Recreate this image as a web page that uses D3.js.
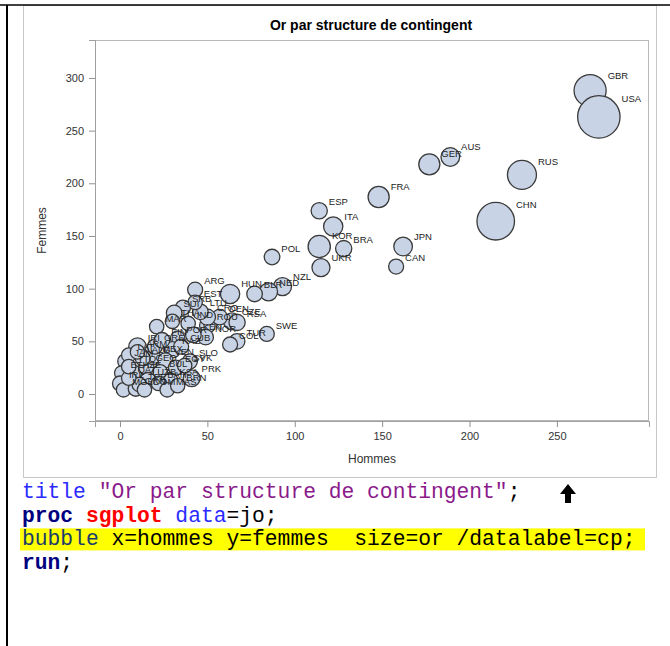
<!DOCTYPE html>
<html>
<head>
<meta charset="utf-8">
<script src="https://cdn.jsdelivr.net/npm/d3@7"></script>
<style>
  html, body { margin: 0; padding: 0; background: #ffffff; }
  svg { display: block; }
  text { white-space: pre; }
</style>
</head>
<body>
<svg id="chart" width="670" height="646"></svg>
<script>
// ---- Data ----
const codes   = ["GBR","USA","CHN","RUS","GER","AUS","FRA","ESP","ITA","KOR","BRA","UKR","JPN","CAN","POL",
                 "NZL","NED","BLR","HUN","ARG","SWE","TUR","COL","ROU","CZE","RSA","DEN","CRO","LTU","EST",
                 "SRB","SUI","THA","IND","MAR","NOR","KEN","POR","IRI","JAM","ETH","IRL","MGL","GRN","AZE",
                 "GEO","MEX","KAZ","CUB","SLO","PRK","VEN","BUL","UZB","TPE","EGY","SVK","LAT","ALG","GRE",
                 "FIN","QAT","KSA","BAH","DOM","TTO","ARM","MAS","BRN"];
const hommes  = [269,274,215,230,177,189,148,114,122,114,128,115,162,158,87,
                 93,85,77,63,43,84,67,63,50,64,67,57,50,46,43,
                 36,31,30,39,21,49,42,33,10,3,1,0,2,9,8,
                 15,19,30,35,40,41,26,23,16,11,32,37,5,13,20,
                 24,5,29,22,14,5,10,27,33];
const femmes  = [288,263,164,208,218,225,187,174,159,140,138,120,140,121,130,
                 102,97,95,95,99,57,50,47,65,69,68,73,73,78,87,
                 82,77,69,67,64,54,56,53,45,31,20,10,4,5,20,
                 26,35,42,45,31,15,32,21,13,9,25,27,37,34,45,
                 51,15,13,10,4,26,40,4,8];
const orVals  = [29,46,38,24,11,7,11,3,8,13,3,6,7,1,2,
                 6,6,2,8,1,1,2,1,2,4,3,2,3,2,0,
                 1,2,0,0,0,2,2,0,5,1,0,1,0,1,1,
                 2,1,3,1,1,4,1,0,2,0,1,0,0,1,1,
                 2,0,0,0,0,0,0,0,0];
const xTicks  = [0, 50, 100, 150, 200, 250];
const yTicks  = [0, 50, 100, 150, 200, 250, 300];
const chartTitle = "Or par structure de contingent";
const xTitle  = "Hommes";
const yTitle  = "Femmes";

const data = codes.map((c, i) => ({ cp: c, hommes: hommes[i], femmes: femmes[i], or: orVals[i] }));

// ---- Drawing ----
const svg = d3.select("#chart");
svg.append("rect").attr("width", 670).attr("height", 646).attr("fill", "#fff");

// outer image frame (grey)
svg.append("rect").attr("x", 23.5).attr("y", 5.5).attr("width", 633).attr("height", 472)
  .attr("fill", "none").attr("stroke", "#c8c8c8").attr("stroke-width", 1);

// black page lines
svg.append("line").attr("x1", 0).attr("x2", 670).attr("y1", 5).attr("y2", 5)
  .attr("stroke", "#000").attr("stroke-width", 1.6);
svg.append("line").attr("x1", 7).attr("x2", 7).attr("y1", 5).attr("y2", 646)
  .attr("stroke", "#000").attr("stroke-width", 2);

const plot = { left: 95, top: 40, right: 649, bottom: 421 };

const x = d3.scaleLinear().domain([-14.3, 302.7]).range([plot.left, plot.right]);
const y = d3.scaleLinear().domain([-25.6, 336]).range([plot.bottom, plot.top]);
const r = d3.scaleLinear().domain([0, 46]).range([7.2, 21.2]);

const labelFont = "'Liberation Sans', Arial, sans-serif";

// title
svg.append("text").attr("x", (plot.left + plot.right) / 2 - 1).attr("y", 30)
  .attr("text-anchor", "middle").attr("font-family", labelFont)
  .attr("font-weight", "bold").attr("font-size", 14).attr("fill", "#000")
  .text(chartTitle);

// plot border
svg.append("rect").attr("x", plot.left + 0.5).attr("y", plot.top + 0.5)
  .attr("width", plot.right - plot.left - 1).attr("height", plot.bottom - plot.top - 1)
  .attr("fill", "none").attr("stroke", "#b8b8b8").attr("stroke-width", 1);

// axes
const xAxis = svg.append("g").attr("transform", `translate(0,${plot.bottom})`)
  .call(d3.axisBottom(x).tickValues(xTicks).tickSize(6).tickPadding(5));
const yAxis = svg.append("g").attr("transform", `translate(${plot.left},0)`)
  .call(d3.axisLeft(y).tickValues(yTicks).tickSize(6).tickPadding(5));
[xAxis, yAxis].forEach(g => {
  g.select(".domain").attr("stroke", "#a0a0a0");
  g.selectAll(".tick line").attr("stroke", "#909090");
  g.selectAll(".tick text").attr("font-family", labelFont).attr("font-size", 11).attr("fill", "#333");
});

svg.append("text").attr("x", (plot.left + plot.right) / 2).attr("y", 463)
  .attr("text-anchor", "middle").attr("font-family", labelFont).attr("font-size", 12).attr("fill", "#333")
  .text(xTitle);
svg.append("text").attr("transform", `translate(46,${(plot.top + plot.bottom) / 2}) rotate(-90)`)
  .attr("text-anchor", "middle").attr("font-family", labelFont).attr("font-size", 12).attr("fill", "#333")
  .text(yTitle);

// bubbles
const gB = svg.append("g");
gB.selectAll("circle").data(data).join("circle")
  .attr("cx", d => x(d.hommes)).attr("cy", d => y(d.femmes)).attr("r", d => r(d.or))
  .attr("fill", "#c8d4e6").attr("stroke", "#3a3a3a").attr("stroke-width", 1.3);

// labels
const gL = svg.append("g");
gL.selectAll("text").data(data).join("text")
  .attr("x", d => x(d.hommes) + r(d.or) + 1.5)
  .attr("y", d => y(d.femmes) - r(d.or) * 0.7)
  .attr("font-family", labelFont).attr("font-size", 9.5).attr("fill", "#222")
  .text(d => d.cp);

// ---- SAS code below the chart ----
const mono = "'Liberation Mono', 'Courier New', monospace";
const codeX = 22, lh = 23.7, base0 = 498;
svg.append("rect").attr("x", 20).attr("y", base0 + lh * 2 - 17).attr("width", 625).attr("height", 22)
  .attr("fill", "#ffff00");
const codeLines = [
  [["title", "#2b2bff", "normal"], [" \"Or par structure de contingent\"", "#8b1a8b", "normal"], [";", "#000", "normal"]],
  [["proc", "#000080", "bold"], [" ", "#000", "normal"], ["sgplot", "#ff0000", "bold"], [" data", "#2b2bff", "normal"], ["=jo;", "#000", "normal"]],
  [["bubble", "#1b3b6b", "normal"], [" x=hommes y=femmes  size=or /datalabel=cp;", "#000", "normal"]],
  [["run", "#000080", "bold"], [";", "#000", "normal"]]
];
codeLines.forEach((parts, i) => {
  const t = svg.append("text").attr("x", codeX).attr("y", base0 + i * lh)
    .attr("font-family", mono).attr("font-size", 21.3);
  parts.forEach(p => t.append("tspan").attr("fill", p[1]).attr("font-weight", p[2]).text(p[0]));
});

// up arrow
svg.append("path")
  .attr("d", "M568,484 L576,494 L571,494 L571,503 L565,503 L565,494 L560,494 Z")
  .attr("fill", "#000");
</script>
</body>
</html>
